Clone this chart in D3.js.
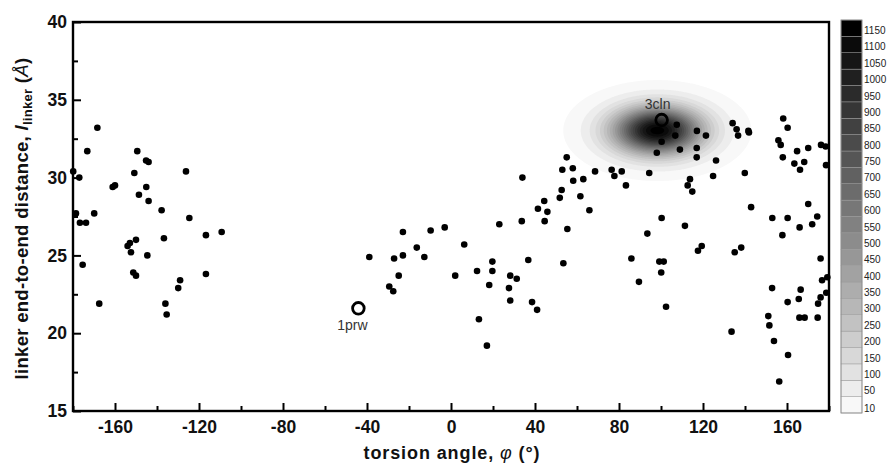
<!DOCTYPE html>
<html>
<head>
<meta charset="utf-8">
<script src="https://cdn.jsdelivr.net/npm/d3@7"></script>
<style>
  html, body { margin: 0; padding: 0; background: #fff; }
  svg { display: block; font-family: "Liberation Sans", Arial, sans-serif; }
</style>
</head>
<body>
<svg id="chart" width="888" height="463"></svg>
<script>
// Linker conformations: torsion angle phi (deg) vs end-to-end distance (Å)
const torsionAngle = [
  -168.4, -173.2, -179.9, -177.0, -178.6, -176.7, -173.8, -169.9, -175.4, -167.5,
  -149.4, -145.2, -144.0, -150.8, -161.1, -160.0, -145.1, -148.6, -144.0, -137.8,
  -126.2, -124.6, -109.2, -116.7, -136.7, -150.0, -152.9, -154.0, -152.4, -144.6,
  -151.3, -150.0, -116.7, -129.0, -129.9, -136.0, -135.4,
  -38.9, -27.1, -22.9, -22.9, -24.9, -29.4, -27.5, -16.3, -12.7, -9.7,
  -3.0, 6.3, 2.0, 12.4, 19.7, 19.7, 18.2, 13.3, 17.1, 23.0,
  28.2, 31.3, 27.6, 28.2, 36.8, 38.6, 41.0, 33.7, 34.0, 41.4,
  44.4, 45.9, 44.6, 51.8, 52.7, 55.4, 53.5,
  55.1, 53.0, 58.0, 58.2, 63.0, 61.6, 65.9, 68.6, 76.5, 77.8,
  81.3, 83.3, 94.4, 98.0, 100.3, 106.8, 107.5, 109.0, 117.1, 121.4,
  117.0, 117.0, 126.2, 124.8, 113.8, 112.7, 114.9, 100.3, 111.4, 93.5,
  85.9, 99.2, 101.3, 100.1, 89.5, 102.4, 119.4, 117.6, 133.6,
  134.1, 136.0, 136.7, 141.6, 141.9, 139.9, 142.9, 138.2, 135.1,
  158.2, 160.3, 155.9, 157.0, 158.0, 164.8, 170.1, 176.2, 178.4, 163.5,
  168.2, 166.2, 178.6, 153.0, 160.3, 166.0, 170.1, 174.4, 172.0, 157.8,
  176.0, 179.2, 176.7, 178.7, 176.0, 174.8, 152.9, 166.5, 165.6, 160.3,
  165.9, 168.4, 174.6, 151.1, 151.6, 153.8, 160.5, 156.3
];
const endToEnd = [
  33.2, 31.7, 30.4, 30.0, 27.7, 27.1, 27.1, 27.7, 24.4, 21.9,
  31.7, 31.1, 31.0, 30.3, 29.4, 29.5, 29.4, 28.9, 28.5, 27.9,
  30.4, 27.4, 26.5, 26.3, 26.1, 26.0, 25.8, 25.6, 25.2, 25.0,
  23.9, 23.7, 23.8, 23.4, 22.9, 21.9, 21.2,
  24.9, 24.8, 25.0, 26.5, 23.7, 23.0, 22.7, 25.5, 24.9, 26.6,
  26.8, 25.7, 23.7, 24.0, 24.6, 24.0, 23.1, 20.9, 19.2, 27.0,
  23.7, 23.5, 22.9, 22.1, 24.7, 22.0, 21.5, 27.2, 30.0, 28.0,
  28.5, 27.8, 27.2, 28.7, 29.2, 26.7, 24.5,
  31.3, 30.5, 30.6, 29.8, 29.9, 28.8, 27.9, 30.4, 30.5, 30.1,
  30.4, 29.5, 30.3, 31.6, 32.3, 32.7, 33.4, 31.8, 33.0, 32.7,
  31.9, 31.3, 31.1, 30.1, 29.9, 29.5, 29.1, 27.4, 26.9, 26.4,
  24.8, 24.6, 24.6, 23.9, 23.3, 21.7, 25.6, 25.3, 20.1,
  33.5, 33.1, 32.7, 33.0, 32.9, 30.3, 28.1, 25.5, 25.2,
  33.8, 33.2, 32.4, 32.1, 31.3, 31.7, 31.9, 32.1, 32.0, 30.9,
  31.0, 30.5, 30.8, 27.4, 27.4, 26.8, 28.3, 27.5, 27.0, 26.3,
  24.8, 23.6, 23.4, 22.6, 22.3, 21.9, 22.9, 22.8, 22.2, 22.0,
  21.0, 21.0, 21.0, 21.1, 20.5, 19.5, 18.6, 16.9
];

// Reference structures drawn as open rings
const refNames = ["1prw", "3cln"];
const refAngle = [-44.1, 100.3];
const refDistance = [21.6, 33.7];

// Population density of the sampled ensemble (2D Gaussian peak)
const densityCenter = [98, 33.0];     // [phi, l]
const densitySpread = [14.5, 1.05];   // [sigma phi, sigma l]
const densityPeak = 1180;

// Contour levels shown on the colour bar
const levels = [10, 50, 100, 150, 200, 250, 300, 350, 400, 450, 500, 550,
                600, 650, 700, 750, 800, 850, 900, 950, 1000, 1050, 1100, 1150];

const xTicks = [-160, -120, -80, -40, 0, 40, 80, 120, 160];
const xMinor = [-180, -140, -100, -60, -20, 20, 60, 100, 140, 180];
const yTicks = [15, 20, 25, 30, 35, 40];
const yMinor = [17.5, 22.5, 27.5, 32.5, 37.5];

const svg = d3.select("#chart");
const plotL = 73, plotR = 829, plotT = 22, plotB = 411;

const x = d3.scaleLinear().domain([-180, 180]).range([plotL, plotR]);
const y = d3.scaleLinear().domain([15, 40]).range([plotB, plotT]);

const shade = i => d3.interpolateRgb("#f8f8f8", "#000000")(i / (levels.length - 1));
const plainNum = d => String(d);   // ASCII hyphen for negatives

// ---- density contours ----
const phi0 = -180, dphi = 0.5, l0 = 15, dl = 0.05;
const nx = Math.round(360 / dphi) + 1, ny = Math.round(25 / dl) + 1;
const grid = new Array(nx * ny);
for (let j = 0; j < ny; j++) {
  const l = l0 + j * dl;
  for (let i = 0; i < nx; i++) {
    const p = phi0 + i * dphi;
    const u = (p - densityCenter[0]) / densitySpread[0];
    const v = (l - densityCenter[1]) / densitySpread[1];
    grid[j * nx + i] = densityPeak * Math.exp(-0.5 * (u * u + v * v));
  }
}
const contours = d3.contours().size([nx, ny]).thresholds(levels)(grid);
const proj = d3.geoTransform({
  point(px, py) { this.stream.point(x(phi0 + px * dphi), y(l0 + py * dl)); }
});
const path = d3.geoPath(proj);
svg.append("g")
  .selectAll("path").data(contours).join("path")
  .attr("d", path)
  .attr("fill", (d, i) => shade(i))
  .attr("stroke", "none");

// ---- points ----
const pts = torsionAngle.map((a, i) => [a, endToEnd[i]]);
svg.append("g").selectAll("circle").data(pts).join("circle")
  .attr("cx", d => x(d[0])).attr("cy", d => y(d[1]))
  .attr("r", 3.3).attr("fill", "#000");

// ---- reference rings ----
const refs = refNames.map((n, i) => ({ name: n, a: refAngle[i], l: refDistance[i] }));
svg.append("g").selectAll("circle").data(refs).join("circle")
  .attr("cx", d => x(d.a)).attr("cy", d => y(d.l))
  .attr("r", 5.8).attr("fill", "none").attr("stroke", "#000").attr("stroke-width", 2.8);
svg.append("g").selectAll("text").data(refs).join("text")
  .attr("x", d => x(d.a) + (d.name === "1prw" ? -6 : -4))
  .attr("y", d => y(d.l) + (d.name === "1prw" ? 22 : -11))
  .attr("text-anchor", "middle")
  .attr("font-size", 14).attr("fill", "#333")
  .text(d => d.name);

// ---- axes ----
const xAxis = d3.axisBottom(x).tickValues(xTicks).tickSize(-8).tickPadding(10)
  .tickFormat(plainNum);
const gx = svg.append("g").attr("transform", `translate(0,${plotB})`).call(xAxis);
const xMinorAxis = d3.axisBottom(x).tickValues(xMinor).tickSize(-5).tickFormat("");
svg.append("g").attr("transform", `translate(0,${plotB})`).call(xMinorAxis);

const yAxis = d3.axisLeft(y).tickValues(yTicks).tickSize(-8).tickPadding(6)
  .tickFormat(plainNum);
const gy = svg.append("g").attr("transform", `translate(${plotL},0)`).call(yAxis);
const yMinorAxis = d3.axisLeft(y).tickValues(yMinor).tickSize(-5).tickFormat("");
svg.append("g").attr("transform", `translate(${plotL},0)`).call(yMinorAxis);

svg.selectAll(".tick line").attr("stroke", "#000").attr("stroke-width", 2);
svg.selectAll(".domain").remove();
[gx, gy].forEach(g => g.selectAll("text")
  .attr("font-size", 17.5).attr("font-weight", "bold").attr("fill", "#111")
  .attr("font-family", "'Liberation Sans', Arial, sans-serif"));
gx.selectAll("text").attr("dy", "0.71em");

// frame
svg.append("rect").attr("x", plotL).attr("y", plotT)
  .attr("width", plotR - plotL).attr("height", plotB - plotT)
  .attr("fill", "none").attr("stroke", "#000").attr("stroke-width", 2.4);

// axis titles
svg.append("text")
  .attr("x", (plotL + plotR) / 2 + 1).attr("y", 459)
  .attr("text-anchor", "middle").attr("font-size", 18).attr("font-weight", "bold")
  .attr("letter-spacing", "0.9px").attr("fill", "#111")
  .call(t => {
    t.append("tspan").text("torsion angle, ");
    t.append("tspan").attr("font-style", "italic").attr("font-weight", "normal").text("φ");
    t.append("tspan").text(" (°)");
  });

svg.append("text")
  .attr("transform", `translate(28,${(plotT + plotB) / 2 + 2}) rotate(-90)`)
  .attr("text-anchor", "middle").attr("font-size", 18.5).attr("font-weight", "bold")
  .attr("letter-spacing", "0.3px").attr("fill", "#111")
  .call(t => {
    t.append("tspan").text("linker end-to-end distance, ");
    t.append("tspan").attr("font-style", "italic").text("l");
    t.append("tspan").attr("font-size", 13).attr("dy", 4).text("linker");
    t.append("tspan").attr("dy", -4).text(" (");
    t.append("tspan").attr("font-style", "italic").attr("font-weight", "normal").text("Å");
    t.append("tspan").text(")");
  });

// ---- colour bar ----
const cbX = 841, cbW = 21, cbTop = 20, cbBottom = 413;
const cb = d3.scaleLinear().domain([0, levels.length]).range([cbBottom, cbTop]);
const gcb = svg.append("g");
gcb.selectAll("rect").data(levels).join("rect")
  .attr("x", cbX).attr("width", cbW)
  .attr("y", (d, i) => cb(i + 1)).attr("height", (d, i) => cb(i) - cb(i + 1))
  .attr("fill", (d, i) => shade(i))
  .attr("stroke", "#9a9a9a").attr("stroke-width", 0.5);
gcb.append("rect").attr("x", cbX).attr("y", cbTop).attr("width", cbW)
  .attr("height", cbBottom - cbTop).attr("fill", "none")
  .attr("stroke", "#8a8a8a").attr("stroke-width", 0.8);
gcb.selectAll("text").data(levels).join("text")
  .attr("x", cbX + cbW + 2)
  .attr("y", (d, i) => cb(i + 1) + (i === 0 ? 15 : 14))
  .attr("font-size", 10).attr("fill", "#222")
  .text(d => d);
</script>
</body>
</html>
